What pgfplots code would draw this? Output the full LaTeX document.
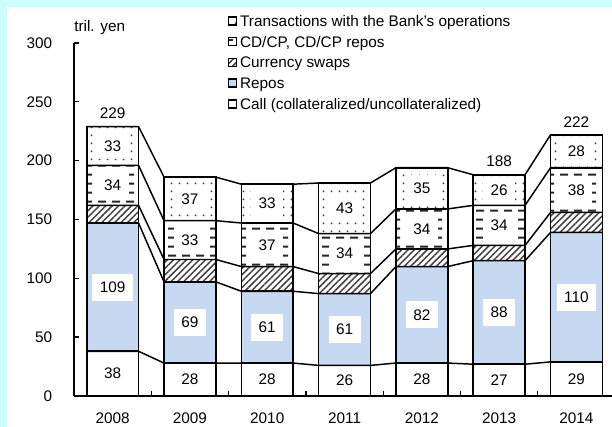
\documentclass[border=0pt]{standalone}
\usepackage{pgfplots}
\pgfplotsset{compat=1.18}
\usepackage{pgfplotstable}
\usepackage{fontspec}
\setmainfont{Liberation Sans}
\usetikzlibrary{patterns,patterns.meta}

\definecolor{bgcyan}{RGB}{204,255,255}
\definecolor{reposblue}{RGB}{198,217,241}
\newcommand\cf{\fontsize{11.5}{13.8}\selectfont}

\tikzdeclarepattern{
  name=hdashes,
  type=uncolored,
  bounding box={(0pt,0pt) and (10.5pt,7pt)},
  tile size={(10.5pt,7pt)},
  code={\draw[line width=1.5pt] (0pt,3.5pt) -- (6.5pt,3.5pt);}
}
\tikzdeclarepattern{
  name=sparsedots,
  type=uncolored,
  bounding box={(0pt,0pt) and (6pt,6pt)},
  tile size={(6pt,6pt)},
  code={\fill (3pt,3pt) circle (0.85pt);}
}

\pgfplotstableread{
x year call repos swaps cdcp bank
0 2008 38 109 15 34 33
1 2009 28 69 19 33 37
2 2010 28 61 21 37 33
3 2011 26 61 17 34 43
4 2012 28 82 15 34 35
5 2013 27 88 13 34 26
6 2014 29 110 17 38 28
}\data

\pgfplotstableread{
x total
0 229
5 188
6 222
}\totals

\pgfplotstableread{
x c1 c2 c3 c4 c5
-0.335 38 147 162 196 229
0.335 38 147 162 196 229
0.665 28 97 116 149 186
1.335 28 97 116 149 186
1.665 28 89 110 147 180
2.335 28 89 110 147 180
2.665 26 87 104 138 181
3.335 26 87 104 138 181
3.665 28 110 125 159 194
4.335 28 110 125 159 194
4.665 27 115 128 162 188
5.335 27 115 128 162 188
5.665 29 139 156 194 222
6.335 29 139 156 194 222
}\conn

\pgfplotsset{
  legimg/.style={legend image code/.code={\draw[##1, line width=1.1pt] (0pt,-3pt) rectangle (6pt,3pt);}},
  common/.style={
    at={(55.5pt,23.25pt)}, anchor=south west, scale only axis,
    width=403.5pt, height=264.75pt,
    xmin=-0.5, xmax=6.46, ymin=0, ymax=300,
  },
  lbl/.style={draw=none, nodes near coords, point meta=explicit symbolic,
    nodes near coords style={anchor=center, font=\cf, fill=white, inner xsep=5.6pt, inner ysep=6pt, text=black}},
}

\begin{document}
\begin{tikzpicture}
\useasboundingbox (0pt,0pt) rectangle (459pt,320.25pt);
\fill[bgcyan] (0pt,0pt) rectangle (459pt,320.25pt);
\fill[white] (5.25pt,0pt) rectangle (459pt,315pt);

\begin{axis}[common,
  ybar stacked, bar width=0.67,
  axis x line*=bottom, axis y line*=left,
  axis line style={line width=1.4pt, black},
  ytick={0,50,...,300},
  xtick={0,...,6},
  xticklabels={2008,2009,2010,2011,2012,2013,2014},
  major x tick style={draw=none},
  minor xtick={0.5,1.5,...,5.5},
  minor x tick style={line width=1pt, black},
  major y tick style={line width=1pt, black},
  tick align=inside,
  major tick length=3.75pt, minor tick length=3.75pt,
  tick label style={font=\cf},
  /pgf/number format/assume math mode=true,
  xticklabel style={inner sep=0pt, yshift=-12.6pt},
  yticklabel style={xshift=-12.9pt},
  clip=false,
  reverse legend,
  legend cell align=left,
  legend style={at={(axis description cs:0.2862,1.0924)}, anchor=north west,
    draw=none, fill=none, inner sep=0pt, outer sep=0pt,
    row sep=0pt, column sep=2pt, font=\cf,
    nodes={inner sep=0pt, text height=11.9pt, text depth=3.7pt}},
]
\addplot[fill=white, draw=black, line width=1.2pt, legimg] table[x=x, y=call] {\data};
\addlegendentry{Call (collateralized/uncollateralized)}
\addplot[fill=reposblue, draw=black, line width=1.2pt, legimg] table[x=x, y=repos] {\data};
\addlegendentry{Repos}
\addplot[pattern={Lines[angle=45,distance=3.4pt,line width=1.1pt]}, pattern color=black!75, draw=black, line width=1.2pt, legimg] table[x=x, y=swaps] {\data};
\addlegendentry{Currency swaps}
\addplot[pattern=hdashes, pattern color=black!85, draw=black, line width=1.2pt, legimg] table[x=x, y=cdcp] {\data};
\addlegendentry{CD/CP, CD/CP repos}
\addplot[pattern=sparsedots, pattern color=black!75, draw=black, line width=1.2pt, legimg] table[x=x, y=bank] {\data};
\addlegendentry{Transactions with the Bank's operations}
\node[anchor=base west, inner sep=0pt, font=\cf] at ([yshift=8.25pt]rel axis cs:0,1) {tril. yen};
\end{axis}

\begin{axis}[common, hide axis, clip=false]
\addplot[black, line width=1.1pt] table[x=x, y=c1] {\conn};
\addplot[black, line width=1.1pt] table[x=x, y=c2] {\conn};
\addplot[black, line width=1.1pt] table[x=x, y=c3] {\conn};
\addplot[black, line width=1.1pt] table[x=x, y=c4] {\conn};
\addplot[black, line width=1.1pt] table[x=x, y=c5] {\conn};
\addplot[lbl, nodes near coords style={fill=none}] table[x=x, y expr=\thisrow{call}/2, meta=call] {\data};
\addplot[lbl] table[x=x, y expr=\thisrow{call}+\thisrow{repos}/2, meta=repos] {\data};
\addplot[lbl] table[x=x, y expr=\thisrow{call}+\thisrow{repos}+\thisrow{swaps}+\thisrow{cdcp}/2, meta=cdcp] {\data};
\addplot[lbl] table[x=x, y expr=\thisrow{call}+\thisrow{repos}+\thisrow{swaps}+\thisrow{cdcp}+\thisrow{bank}/2, meta=bank] {\data};
\addplot[draw=none, nodes near coords, point meta=explicit symbolic,
  nodes near coords style={anchor=south, font=\cf, inner sep=0pt, yshift=5.6pt}]
  table[x=x, y=total, meta=total] {\totals};
\end{axis}
\end{tikzpicture}
\end{document}
